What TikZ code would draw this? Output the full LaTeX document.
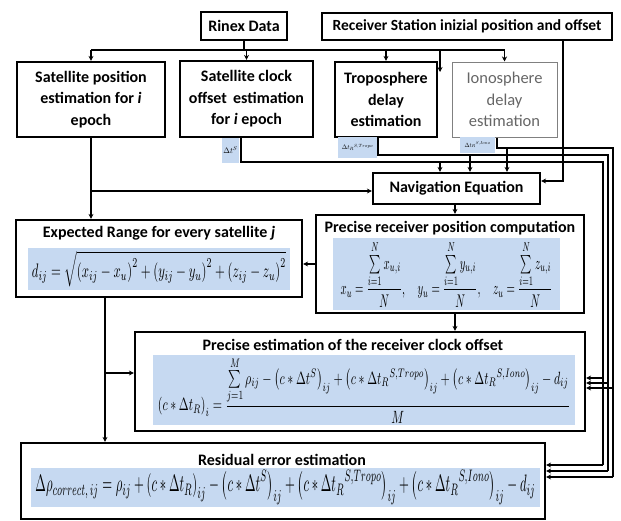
\documentclass[tikz,border=0pt]{standalone}
\usepackage{fontspec}
\setmainfont{Carlito}
\usepackage{graphicx}
\usetikzlibrary{arrows.meta}
\definecolor{eqblue}{HTML}{C6D9F1}
\tikzset{
  box/.style={draw, line width=2.2pt, fill=white, align=center, inner sep=0pt,
    font=\bfseries\fontsize{16}{21.5}\selectfont},
  lbox/.style={draw=black!50, line width=1pt, fill=white, align=center, inner sep=0pt,
    text=black!60, font=\fontsize{16.5}{21.5}\selectfont},
  ttl/.style={inner sep=0pt, font=\bfseries\fontsize{16}{18}\selectfont},
  eqbg/.style={fill=eqblue, inner sep=0pt},
  lab/.style={fill=eqblue, inner sep=0pt},
  ln/.style={line width=1.6pt},
  arr/.style={line width=1.6pt, -{Stealth[length=5pt,width=5pt]}},
}
\begin{document}
\begin{tikzpicture}[x=1pt,y=-1pt]
\useasboundingbox (0,0) rectangle (621,520);
% top boxes
\node[box, minimum width=86pt, minimum height=28pt] (rinex) at (244,26) {Rinex Data};
\node[box, minimum width=290pt, minimum height=27pt, font=\bfseries\fontsize{15.5}{17}\selectfont] (recv) at (467,26.5) {Receiver Station inizial position and offset};
\node[box, minimum width=148pt, minimum height=75pt] (satpos) at (91,99.5) {Satellite position\\estimation for \textit{i}\\epoch};
\node[box, minimum width=133pt, minimum height=76pt] (satclk) at (246.5,99) {Satellite clock\\offset\, estimation\\for \textit{i} epoch};
\node[box, minimum width=102pt, minimum height=75pt] (tropo) at (386,99.5) {Troposphere\\delay\\estimation};
\node[lbox, minimum width=105pt, minimum height=75pt] (iono) at (504.5,99.5) {Ionosphere\\delay\\estimation};
% labels
\node[lab, minimum width=17pt, minimum height=25pt] (dts) at (230.5,150.5) {\scalebox{0.8}{$\Delta t^{S}$}};
\node[lab, minimum width=39pt, minimum height=21pt] (dttr) at (357.5,147.5) {\scalebox{0.65}{$\Delta t_{R}{}^{S,Tropo}$}};
\node[lab, minimum width=35pt, minimum height=16pt] (dtio) at (477.5,145) {\scalebox{0.6}{$\Delta t_{R}{}^{S,Iono}$}};
% navigation
\node[box, minimum width=167pt, minimum height=31pt] (nav) at (456.5,188.5) {Navigation Equation};
% expected range
\node[box, minimum width=286pt, minimum height=77pt] (exp) at (159,258.5) {};
\node[ttl] (expt) at (159,233) {Expected Range for every satellite \textit{j}};
\node[eqbg, minimum width=262pt, minimum height=42pt] (expeq) at (159,269)
  {\resizebox*{254pt}{36pt}{$\displaystyle d_{ij}=\sqrt{\left(x_{ij}-x_{u}\right)^{2}+\left(y_{ij}-y_{u}\right)^{2}+\left(z_{ij}-z_{u}\right)^{2}}$}};
% precise receiver position
\node[box, minimum width=268pt, minimum height=98pt] (prec) at (450,264) {};
\node[ttl] (prect) at (450,228) {Precise receiver position computation};
\node[eqbg, minimum width=227pt, minimum height=72pt] (preceq) at (446.5,274)
  {\resizebox*{212pt}{66pt}{$\displaystyle x_{u}=\frac{\sum\limits_{i=1}^{N}x_{u,i}}{N},\quad y_{u}=\frac{\sum\limits_{i=1}^{N}y_{u,i}}{N},\quad z_{u}=\frac{\sum\limits_{i=1}^{N}z_{u,i}}{N}$}};
% clock offset
\node[box, minimum width=450pt, minimum height=99pt] (clock) at (360,381.5) {};
\node[ttl] (clockt) at (353,345) {Precise estimation of the receiver clock offset};
\node[eqbg, minimum width=422pt, minimum height=70pt] (clockeq) at (364,390)
  {\resizebox*{412pt}{66pt}{$\displaystyle \left(c*\Delta t_{R}\right)_{i}=\frac{\sum\limits_{j=1}^{M}\rho_{ij}-\left(c*\Delta t^{S}\right)_{ij}+\left(c*\Delta t_{R}{}^{S,Tropo}\right)_{ij}+\left(c*\Delta t_{R}{}^{S,Iono}\right)_{ij}-d_{ij}}{M}$}};
% residual
\node[box, minimum width=524pt, minimum height=76pt] (resid) at (283,481) {};
\node[ttl] (residt) at (282,460) {Residual error estimation};
\node[eqbg, minimum width=509pt, minimum height=39pt] (resideq) at (285.5,487.5)
  {\resizebox*{500pt}{34pt}{$\displaystyle \Delta\rho_{correct,\,ij}=\rho_{ij}+\left(c*\Delta t_{R}\right)_{ij}-\left(c*\Delta t^{S}\right)_{ij}+\left(c*\Delta t_{R}{}^{S,Tropo}\right)_{ij}+\left(c*\Delta t_{R}{}^{S,Iono}\right)_{ij}-d_{ij}$}};
% bus from Rinex
\coordinate (busL) at (91,50);
\coordinate (busR) at (504.5,50);
\coordinate (dang) at (440,72);
\draw[ln] (rinex.south) -- (rinex.south |- busL);
\draw[ln] (busL) -- (busR);
\draw[arr] (busL) -- (satpos.north);
\draw[arr] (satclk.north |- busL) -- (satclk.north);
\draw[arr] (tropo.north |- busL) -- (tropo.north);
\draw[arr] (busR) -- (iono.north);
\draw[arr] (dang |- busL) -- (dang);
% receiver station to navigation
\coordinate (rv) at (563,181);
\draw[arr] (recv.south -| rv) -- (rv) -- (nav.east |- rv);
% satellite clock offset line
\coordinate (s0) at (241,162);
\coordinate (s1) at (603,162);
\coordinate (s2) at (603,465);
\coordinate (s3) at (603,378);
\coordinate (sn) at (440,162);
\draw[ln] (satclk.south -| s0) -- (s0) -- (s1) -- (s2);
\draw[arr] (s2) -- (resid.east |- s2);
\draw[arr] (s3) -- (clock.east |- s3);
\draw[arr] (sn) -- (nav.north -| sn);
% troposphere line
\coordinate (t0) at (378,155);
\coordinate (t1) at (608,155);
\coordinate (t2) at (608,471);
\coordinate (t3) at (608,383);
\coordinate (tn) at (470,155);
\draw[ln] (tropo.south -| t0) -- (t0) -- (t1) -- (t2);
\draw[arr] (t2) -- (resid.east |- t2);
\draw[arr] (t3) -- (clock.east |- t3);
\draw[arr] (tn) -- (nav.north -| tn);
% ionosphere line
\coordinate (i0) at (497,148);
\coordinate (i1) at (613,148);
\coordinate (i2) at (613,477);
\coordinate (i3) at (613,388);
\coordinate (in) at (507,148);
\draw[ln] (iono.south -| i0) -- (i0) -- (i1) -- (i2);
\draw[arr] (i2) -- (resid.east |- i2);
\draw[arr] (i3) -- (clock.east |- i3);
\draw[arr] (in) -- (nav.north -| in);
% satellite position lines
\coordinate (sp) at (91,191);
\draw[arr] (satpos.south) -- (exp.north -| satpos.south);
\draw[arr] (sp) -- (nav.west |- sp);
% expected range to clock and residual
\coordinate (ev) at (105,373);
\draw[arr] (exp.south -| ev) -- (resid.north -| ev);
\draw[arr] (ev) -- (clock.west |- ev);
% precise position links
\coordinate (nx) at (455,210);
\draw[arr] (prec.west) -- (exp.east |- prec.west);
\draw[arr] (nav.south -| nx) -- (prec.north -| nx);
\draw[arr] (prec.south -| nx) -- (clock.north -| nx);
\end{tikzpicture}
\end{document}
